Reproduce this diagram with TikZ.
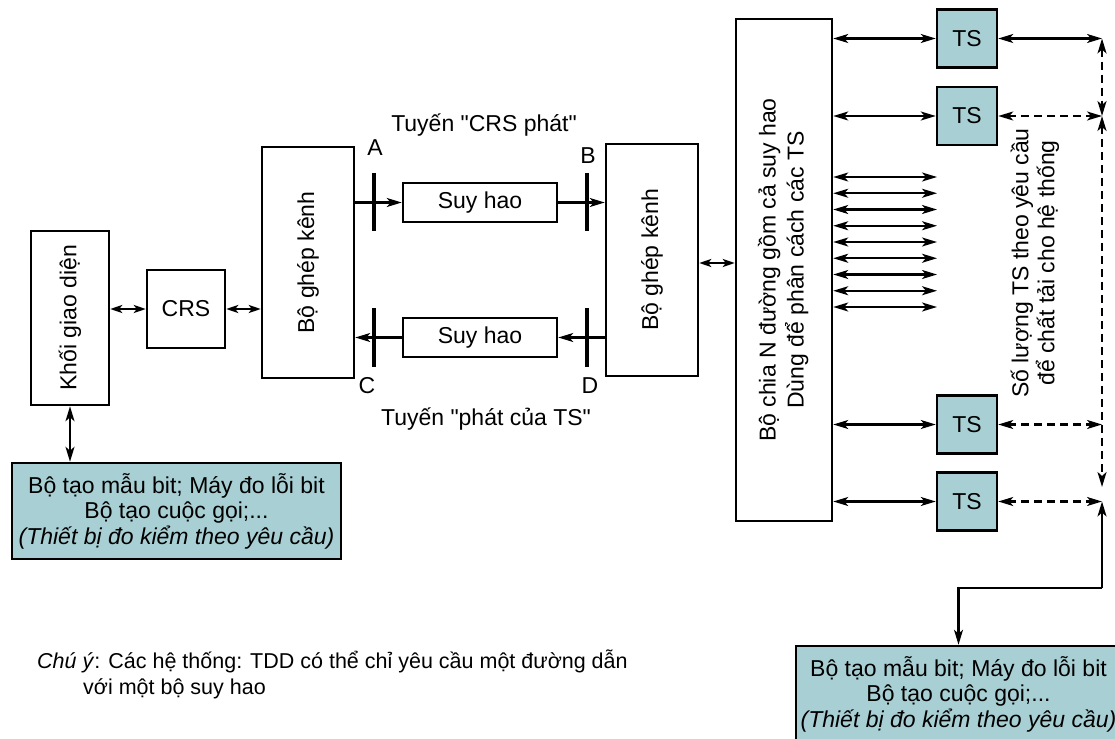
\documentclass[tikz,border=0pt]{standalone}
\usepackage{fontspec}
\setmainfont{Liberation Sans}
\usetikzlibrary{arrows.meta,calc}
\definecolor{tsfill}{RGB}{168,208,212}
\begin{document}
\begin{tikzpicture}[x=1pt,y=-1pt,
  txt/.style={font=\fontsize{23}{27}\selectfont},
  box/.style={draw, line width=2.5pt, inner sep=0pt, txt},
  tsbox/.style={box, fill=tsfill, minimum width=60, minimum height=58},
  genbox/.style={box, fill=tsfill, minimum width=329, minimum height=96, align=center, font=\fontsize{23}{25.5}\selectfont},
  arr/.style={line width=2.1pt, -{Stealth[length=15pt,width=9pt,inset=4pt]}},
  darr/.style={line width=2.1pt, {Stealth[length=15pt,width=9pt,inset=4pt]}-{Stealth[length=15pt,width=9pt,inset=4pt]}},
  sdarr/.style={line width=2.1pt, {Stealth[length=12pt,width=8pt,inset=3pt]}-{Stealth[length=12pt,width=8pt,inset=3pt]}},
  dsh/.style={dash pattern=on 8pt off 5pt},
  bar/.style={line width=4pt},
  lbl/.style={txt, inner sep=0pt}]
\clip (0,0) rectangle (1115,738);
\fill[white] (0,0) rectangle (1115,738);

% left part
\node[box, minimum width=78, minimum height=174] (khoi) at (70,318) {\rotatebox{90}{Khối giao diện}};
\node[box, minimum width=78, minimum height=78] (crs) at (186,309) {CRS};
\node[box, minimum width=92, minimum height=231] (bgk1) at (308,262.5) {\rotatebox{90}{Bộ ghép kênh}};
\node[box, minimum width=154, minimum height=39] (sh1) at (480,202.5) {Suy hao};
\node[box, minimum width=154, minimum height=39] (sh2) at (480,337.5) {Suy hao};
\node[box, minimum width=92, minimum height=232] (bgk2) at (652,260) {\rotatebox{90}{Bộ ghép kênh}};
\node[box, minimum width=96, minimum height=502] (split) at (784,270)
  {\rotatebox{90}{\fontsize{23}{28}\selectfont\begin{tabular}{@{}c@{}}Bộ chia N đường gồm cả suy hao\\Dùng để phân cách các TS\end{tabular}}};

\node[genbox] (gen1) at (176.5,511) {Bộ tạo mẫu bit; Máy đo lỗi bit\\Bộ tạo cuộc gọi;...\\\textit{(Thiết bị đo kiểm theo yêu cầu)}};
\node[genbox, minimum width=325] (gen2) at (958.5,694) {Bộ tạo mẫu bit; Máy đo lỗi bit\\Bộ tạo cuộc gọi;...\\\textit{(Thiết bị đo kiểm theo yêu cầu)}};

% TS boxes
\node[tsbox] (ts1) at (967,38.5) {TS};
\node[tsbox] (ts2) at (967,116) {TS};
\node[tsbox] (ts3) at (967,424.5) {TS};
\node[tsbox] (ts4) at (967,501.5) {TS};

% bars
\coordinate (At) at (374,173); \coordinate (Ab) at (374,231);
\coordinate (Bt) at (587,173); \coordinate (Bb) at (587,231);
\coordinate (Ct) at (374,308); \coordinate (Cb) at (374,367);
\coordinate (Dt) at (587,308); \coordinate (Db) at (587,367);
\draw[bar] (At) -- (Ab);
\draw[bar] (Bt) -- (Bb);
\draw[bar] (Ct) -- (Cb);
\draw[bar] (Dt) -- (Db);

% labels
\node[lbl] (la) at (375,148) {A};
\node[lbl] (lb) at (588,156) {B};
\node[lbl] (lc) at (367,386) {C};
\node[lbl] (ld) at (590,386) {D};
\node[lbl] (t1) at (484,125) {Tuyến \textquotedbl CRS phát\textquotedbl};
\node[lbl] (t2) at (486,419) {Tuyến \textquotedbl phát của TS\textquotedbl};
\node[lbl, rotate=90, align=center, font=\fontsize{23}{26}\selectfont] (sl) at (1035,263)
  {Số lượng TS theo yêu cầu\\để chất tải cho hệ thống};

% connectors left
\draw[sdarr] (khoi.east |- crs) -- (crs.west);
\draw[sdarr] (crs.east) -- (bgk1.west |- crs);
\draw[darr] (khoi.south) -- (khoi.south |- gen1.north);
\draw[arr] (bgk1.east |- sh1) -- (sh1.west);
\draw[arr] (sh1.east) -- (bgk2.west |- sh1);
\draw[arr] (bgk2.west |- sh2) -- (sh2.east);
\draw[arr] (sh2.west) -- (bgk1.east |- sh2);
\draw[sdarr] (bgk2.east |- 0,263) -- (split.west |- 0,263);

% splitter outputs
\draw[darr] (split.east |- ts1) -- (ts1.west);
\draw[darr] (split.east |- ts2) -- (ts2.west);
\draw[darr] (split.east |- ts3) -- (ts3.west);
\draw[darr] (split.east |- ts4) -- (ts4.west);
\foreach \yy in {177,193.25,209.5,225.75,242,258.25,274.5,290.75,307}
  \draw[darr] (split.east |- 0,\yy) -- (937,\yy);

% right side
\coordinate (r1) at (1102,38.5);
\coordinate (r2) at (1102,116);
\coordinate (r3) at (1102,424.5);
\coordinate (r3b) at (1102,487);
\coordinate (r4) at (1102,501.5);
\coordinate (turn) at (1102,588);
\draw[darr] (ts1.east) -- (r1);
\draw[darr, dsh] (ts2.east) -- (r2);
\draw[darr, dsh] (ts3.east) -- (r3);
\draw[darr, dsh] (ts4.east) -- (r4);
\draw[darr, dsh] (r1) -- (r2);
\draw[darr, dsh] (r2) -- (r3b);
\draw[arr] (turn) -- (r4);
\draw[arr] (turn) -- (turn -| gen2.north) -- (gen2.north);

% note
\node[anchor=north west, align=left, inner sep=0pt, font=\fontsize{21.5}{26}\selectfont] (note) at (37,650)
  {\textit{Chú ý}: Các hệ thống: TDD có thể chỉ yêu cầu một đường dẫn\\\hspace*{46pt}với một bộ suy hao};
\end{tikzpicture}
\end{document}
